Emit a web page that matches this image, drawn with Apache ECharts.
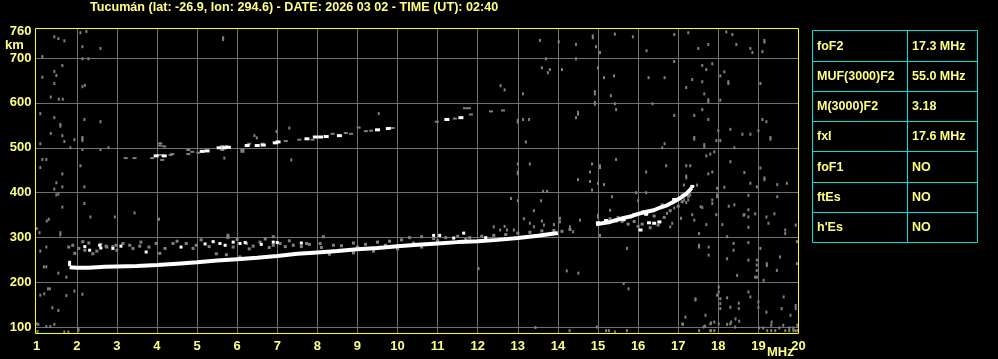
<!DOCTYPE html>
<html><head><meta charset="utf-8">
<script src="https://cdn.jsdelivr.net/npm/echarts@6/dist/echarts.min.js"></script>
<style>html,body{margin:0;padding:0;background:#000;}#c{width:998px;height:359px;}</style>
</head><body><div id="c"></div>
<script>
// ---------- text / ticks ----------
const titleText = 'Tucumán (lat: -26.9, lon: 294.6) - DATE: 2026 03 02 - TIME (UT): 02:40';
const freqLabels = [1,2,3,4,5,6,7,8,9,10,11,12,13,14,15,16,17,18,19,20];
const freqGrid = [2,3,4,5,6,7,8,9,10,11,12,13,14,15,16,17,18,19];
const heightLabels = [100,200,300,400,500,600,700,760];
const heightGrid = [100,200,300,400,500,600,700];
const tableLabels = ['foF2','MUF(3000)F2','M(3000)F2','fxI','foF1','ftEs',"h'Es"];
const tableValues = ['17.3 MHz','55.0 MHz','3.18','17.6 MHz','NO','NO','NO'];

// ---------- data: [frequency MHz, virtual height km] ----------
const traceLow = [[1.82,234],[2.0,233],[2.3,233],[2.7,235],[3.0,236],[3.5,237],[4.0,239],[4.5,242],[5.0,245],[5.5,249],[6.0,252],[6.5,255],[7.0,259],[7.5,264],[8.0,267],[8.5,270],[9.0,274],[9.5,277],[10.0,281],[10.5,284],[11.0,287],[11.5,290],[12.0,292],[12.5,295],[13.0,299],[13.5,304],[13.9,309],[14.0,310]];
const traceHigh = [[14.95,330],[15.1,332],[15.3,335],[15.5,340],[15.64,344],[15.81,347],[15.93,351],[16.05,354],[16.18,357],[16.39,361],[16.55,367],[16.72,372],[16.89,380],[17.05,388],[17.22,399],[17.34,411]];
const risingWhite = [[15.64,340],[16.06,317],[16.27,333],[16.4,332],[16.53,335],[15.2,338],[16.2,352],[16.9,385],[17.35,414],[15.0,333],[15.44,339]];
const risingGray = [[15.6,336],[15.75,330],[15.9,336],[16.0,325],[16.1,330],[16.3,322],[16.5,328],[16.65,345],[16.8,360],[17.0,370],[17.1,380],[17.25,392],[16.4,348],[15.5,345],[15.3,342],[15.26,336],[15.46,337],[15.89,351],[16.12,358],[16.6,373],[16.93,384],[17.1,395]];
const echoWhite = [[3.98,482],[4.18,482],[5.13,492],[5.25,493],[5.55,500],[5.68,500],[5.78,501],[6.25,505],[6.5,505],[6.65,506],[6.95,511],[7.02,513],[7.74,520],[7.95,524],[8.08,524],[8.22,525],[8.55,527],[9.5,540],[9.77,543],[11.23,563],[11.58,567]];
const echoGray = [[3.22,477],[3.44,477],[3.88,477],[4.13,473],[4.08,484],[4.34,484],[4.38,486],[4.08,505],[4.08,510],[4.18,503],[4.78,495],[4.78,486],[5.03,489],[4.88,491],[5.63,495],[5.73,504],[5.63,504],[6.13,495],[6.13,491],[6.3,509],[6.63,509],[7.21,515],[7.55,518],[7.88,518],[8.38,531],[8.71,533],[8.84,531],[9.21,537],[9.34,538],[9.88,544],[10.98,558],[11.43,565],[11.68,588],[11.78,588],[11.83,574],[12.33,581],[12.63,583],[9.03,545]];
const cloudWhite = [[2.32,272],[2.57,283],[3.73,268],[5.4,291],[5.57,287],[5.9,290],[6.07,287],[10.9,305],[11.05,305],[11.4,299],[11.65,310],[12.2,300],[1.82,245],[1.82,240],[2.2,280],[2.6,277],[5.7,283],[6.2,289],[6.6,285],[7.0,289],[2.9,276],[3.1,281],[4.6,279],[5.2,286],[6.9,290],[7.6,288]];
const cloudGray = [[1.8,279],[1.95,265],[2.15,291],[2.2,272],[2.4,264],[2.6,285],[2.75,279],[2.9,280],[1.9,283],[2.73,281],[2.98,283],[3.15,287],[3.32,283],[3.57,281],[3.98,287],[4.07,265],[4.4,287],[4.73,287],[4.98,283],[5.48,264],[5.73,262],[5.77,300],[5.77,305],[6.23,287],[6.4,281],[6.57,290],[6.07,257],[6.4,256],[6.9,283],[7.07,287],[7.4,283],[7.73,287],[8.07,287],[8.4,283],[6.9,302],[8.15,302],[7.6,280],[7.8,285],[8.1,278],[8.6,282],[8.9,288],[9.2,285],[9.5,290],[9.8,292],[10.1,295],[10.3,300],[10.6,302],[10.9,298],[11.2,300],[11.5,303],[11.8,300],[12.1,303],[12.4,305],[12.7,307],[13.0,310],[13.3,312],[13.6,315],[13.9,316],[14.1,314],[14.3,318],[8.3,263],[8.9,266],[9.4,270],[10.0,275],[10.6,279],
[2.05,276],[2.5,270],[3.0,272],[3.4,276],[3.8,279],[4.2,276],[4.9,276],[5.3,280],[5.9,279],[6.3,275],[6.8,278],[7.2,280],[3.6,290],[4.5,292],[5.1,295],[6.0,296],[6.7,297],[7.3,293],[2.3,288],[9.0,279],[9.7,283],[10.4,288],[11.0,293],[11.7,296]];
const noise = [
[1.44,747],[1.54,743],[1.69,738],[2.09,756],[2.24,759],[2.14,725],[2.59,721],[1.14,703],[2.14,698],[2.29,698],
[1.64,683],[1.44,670],[1.49,661],[1.14,657],[1.44,643],[2.2,639],[2.14,636],[1.35,613],[1.55,608],[1.65,608],
[1.09,576],[1.44,567],[1.59,552],[1.59,548],[2.19,563],[2.59,558],[1.35,532],[1.64,527],[1.69,514],[1.94,518],[2.14,516],[2.14,520],[2.14,523],
[1.09,509],[1.84,500],[2.14,496],[2.59,496],[2.79,500],[1.14,474],[1.24,474],[2.09,460],[1.09,456],[1.64,442],
[1.49,422],[1.64,413],[2.19,413],[1.44,408],[1.49,395],[1.54,397],[1.64,368],[2.34,346],[3.44,355],[1.3,341],[1.25,337],[4.05,341],[2.19,376],[2.95,346],
[5.65,745],[5.65,741],[7.3,544],[7.35,473],[5.68,477],[9.53,576],[6.98,536],[6.43,527],[6.49,522],
[1.0,320],[1.07,311],[1.59,311],[1.59,306],[1.09,270],[1.24,279],[1.18,235],[1.24,235],[1.54,221],[1.74,212],[1.28,186],[1.33,186],[1.09,172],[1.19,175],[1.39,144],[1.54,138],[1.74,171],[1.94,181],[2.14,174],
[1.04,107],[1.24,102],[1.34,102],[1.44,107],[1.69,90],[1.79,90],[2.04,97],[2.04,93],[1.0,108],[1.02,91],
[14.87,749],[14.87,745],[15.42,753],[15.87,747],[13.55,739],[14.02,736],[14.45,730],[14.95,725],[15.05,712],[16.21,716],[16.9,752],[17.25,756],[17.5,721],[17.75,730],[18.2,758],[18.35,752],[18.45,730],[18.8,721],[18.85,712],[19.1,714],[19.15,739],[19.15,735],
[13.7,698],[14.45,698],[13.6,678],[13.8,674],[13.75,667],[14.1,674],[15.0,678],[15.15,656],[15.4,660],[16.26,656],[16.66,656],[16.9,692],[17.35,652],[17.6,683],[17.7,674],[17.85,687],[18.05,660],[18.15,669],[18.25,643],[18.25,647],[19.05,643],[17.6,647],[17.2,634],[17.65,620],[17.75,607],[17.75,603],[18.05,606],
[14.92,625],[14.92,620],[14.92,601],[14.92,597],[13.13,620],[12.57,638],[12.67,629],[15.32,616],[16.36,598],[15.42,598],[15.45,585],[14.5,579],[14.5,575],[13.0,561],[13.0,557],[13.13,563],[13.28,563],[14.45,567],[16.9,572],[17.4,572],[17.6,585],[17.75,563],[18.0,538],[18.3,541],[18.6,530],[18.8,530],[19.0,538],[19.1,563],[19.2,558],[19.3,523],[19.3,519],[17.4,523],[17.4,519],[17.95,516],[18.05,516],[17.65,507],[17.65,503],[16.66,509],[16.6,500],[18.4,500],[13.2,513],
[17.7,482],[17.8,486],[17.9,491],[18.3,469],[18.65,445],[18.8,421],[19.05,455],[19.15,433],[19.15,429],[17.75,442],[17.85,446],[17.2,460],[17.3,460],[17.2,437],[17.2,433],[16.7,460],[16.2,446],[18.15,412],[18.75,394],[18.4,373],[18.75,362],[18.65,351],[17.6,367],[17.35,351],[17.7,329],[17.95,351],[18.1,329],
[15.45,474],[15.05,460],[15.05,456],[14.85,464],[14.8,446],[13.0,464],[13.0,446],[13.0,442],[13.3,464],[14.5,429],[14.8,425],[14.85,406],[15.0,421],[15.15,418],[13.63,403],[13.73,403],[12.83,387],[13.0,382],[13.58,382],[13.15,342],[13.4,360],[13.6,337],[13.9,329],[12.4,324],[12.67,325],[15.0,346],[15.35,391],[15.95,400],[16.2,400],[16.0,382],[16.9,366],[17.2,378],[17.15,384],[17.25,384],[17.3,408],[17.3,395],
[17.14,417],[17.47,417],[17.97,410],[17.97,395],[17.97,391],[17.85,384],[17.85,376],[17.56,369],[17.4,339],[17.07,343],[16.85,332],[16.8,324],[16.72,354],[18.26,370],[18.63,350],[18.75,323],[18.75,346],[18.92,353],[18.96,413],[19.2,346],[19.25,332],[19.4,353],[19.47,391],[19.67,317],[19.67,309],[19.71,421],[19.47,418],[19.93,328],[18.22,302],[18.38,287],[18.38,272],[18.75,289],[18.75,250],[19.05,276],[19.21,242],[19.21,238],[19.46,227],[19.54,257],[19.96,291],[19.96,242],[17.52,309],[17.52,283],[17.52,279],[17.76,279],[17.76,261],[18.22,253],[18.47,216],[18.92,212],[18.96,227],[15.72,276],[15.76,186],[15.64,198],[17.43,164],[17.43,161],[17.68,127],[17.8,108],[17.8,93],[18.01,190],[18.01,179],[17.97,172],[18.05,164],[18.22,166],[18.05,153],[18.05,142],[18.3,145],[18.43,119],[18.51,154],[18.51,142],[18.3,108],[18.01,108],[17.63,101],[17.18,123],[17.1,108],[18.8,168],[19.0,157],[19.0,145],[19.2,134],[19.33,112],[19.63,168],[19.58,142],[19.8,127],[19.93,149],[19.93,142],[19.13,205],[18.96,250],[18.96,239],[18.75,179],[18.96,212],
[14.97,101],[13.44,100],[14.29,93],[15.2,93],[15.27,93],[15.42,90],[15.72,93],[17.12,107],[17.52,93],[17.67,103],[17.82,110],[17.82,93],[17.9,112],[17.9,93],[18.22,107],[18.32,112],[18.42,101],[18.52,114],
[19.02,99],[19.12,99],[19.22,93],[19.32,105],[19.32,93],[19.42,93],[19.52,99],[19.62,105],[19.67,93],[19.77,99],[19.87,99],[19.92,93],[19.97,105],[19.97,93],[19.87,93],[19.77,93],
[12.02,231],[14.22,226],[14.51,221],[14.05,343],[14.05,335],[14.3,324],[14.38,313],[14.55,339],[15.0,350],[15.05,305],[15.3,361],[13.3,332],[13.4,324],[13.65,328],[12.56,317],[12.73,317],[12.9,317]
];

// ---------- chart ----------
const FONT = '"Liberation Sans", Arial, sans-serif';
const TXT = '#ffff80';
const GRAY = '#808080';
const CYAN = '#00e0e0';
const chart = echarts.init(document.getElementById('c'), null, {renderer: 'canvas'});

function scat(name, data, color, size, z) {
  return {name, type: 'scatter', data, symbol: 'rect', symbolSize: size,
    itemStyle: {color, opacity: 1}, z, silent: true};
}

const rowLines = [30, 61, 91, 121, 151, 182, 212, 242];
const tableEls = [];
tableEls.push({type: 'rect', shape: {x: 812.5, y: 30.5, width: 165, height: 212}, style: {fill: 'none', stroke: CYAN, lineWidth: 1}});
tableEls.push({type: 'line', shape: {x1: 907.5, y1: 30.5, x2: 907.5, y2: 242.5}, style: {stroke: CYAN, lineWidth: 1}});
for (let i = 1; i < rowLines.length - 1; i++) {
  tableEls.push({type: 'line', shape: {x1: 812.5, y1: rowLines[i] + 0.5, x2: 977.5, y2: rowLines[i] + 0.5}, style: {stroke: CYAN, lineWidth: 1}});
}
tableLabels.forEach((t, i) => {
  const cy = (rowLines[i] + rowLines[i + 1]) / 2 + 1;
  tableEls.push({type: 'text', x: 817, y: cy, style: {text: t, fill: TXT, font: 'bold 12.5px ' + FONT, verticalAlign: 'middle', align: 'left'}});
  tableEls.push({type: 'text', x: 912, y: cy, style: {text: tableValues[i], fill: TXT, font: 'bold 12.5px ' + FONT, verticalAlign: 'middle', align: 'left'}});
});

const option = {
  backgroundColor: '#000',
  animation: false,
  title: {text: titleText, left: 90, top: 1, padding: 0,
    textStyle: {color: TXT, fontSize: 12.6, fontWeight: 'bold', fontFamily: FONT}},
  grid: {left: 35.5, right: 199.5, top: 28.5, bottom: 25.5, show: true, borderColor: '#ffff00', borderWidth: 1, backgroundColor: 'transparent', z: 10},
  xAxis: {type: 'value', min: 0.97, max: 20,
    axisLine: {show: false}, axisTick: {show: false, customValues: freqGrid},
    axisLabel: {customValues: freqLabels, color: TXT, fontWeight: 'bold', fontSize: 13, fontFamily: FONT, margin: 6, showMinLabel: true, showMaxLabel: true},
    splitLine: {show: true, lineStyle: {color: '#707070', width: 1}}},
  yAxis: {type: 'value', min: 86.6, max: 765.5,
    axisLine: {show: false}, axisTick: {show: false, customValues: heightGrid},
    axisLabel: {customValues: heightLabels, color: TXT, fontWeight: 'bold', fontSize: 13, fontFamily: FONT, margin: 4, showMinLabel: true, showMaxLabel: true},
    splitLine: {show: true, lineStyle: {color: '#707070', width: 1}}},
  graphic: [
    {type: 'text', x: 5, y: 45, style: {text: 'km', fill: TXT, font: 'bold 13px ' + FONT, verticalAlign: 'middle'}},
    {type: 'text', x: 767, y: 352, style: {text: 'MHz', fill: TXT, font: 'bold 13px ' + FONT, verticalAlign: 'middle'}},
    {type: 'group', children: tableEls}
  ],
  series: [
    scat('noise', noise, GRAY, [2, 3], 2),
    scat('cloudGray', cloudGray, GRAY, [3, 3], 3),
    scat('echoGray', echoGray, GRAY, [4, 2], 3),
    scat('risingGray', risingGray, GRAY, [3, 3], 3),
    {name: 'F2 low', type: 'line', data: traceLow, showSymbol: false, symbol: 'none', silent: true,
      lineStyle: {color: '#ffffff', width: 4}, z: 4},
    {name: 'F2 high', type: 'line', data: traceHigh, showSymbol: false, symbol: 'none', silent: true,
      lineStyle: {color: '#ffffff', width: 4}, z: 4},
    scat('cloudWhite', cloudWhite, '#ffffff', [3, 3], 5),
    scat('echoWhite', echoWhite, '#ffffff', [5, 3], 5),
    scat('risingWhite', risingWhite, '#ffffff', [4, 3], 5)
  ]
};
chart.setOption(option);
</script></body></html>
